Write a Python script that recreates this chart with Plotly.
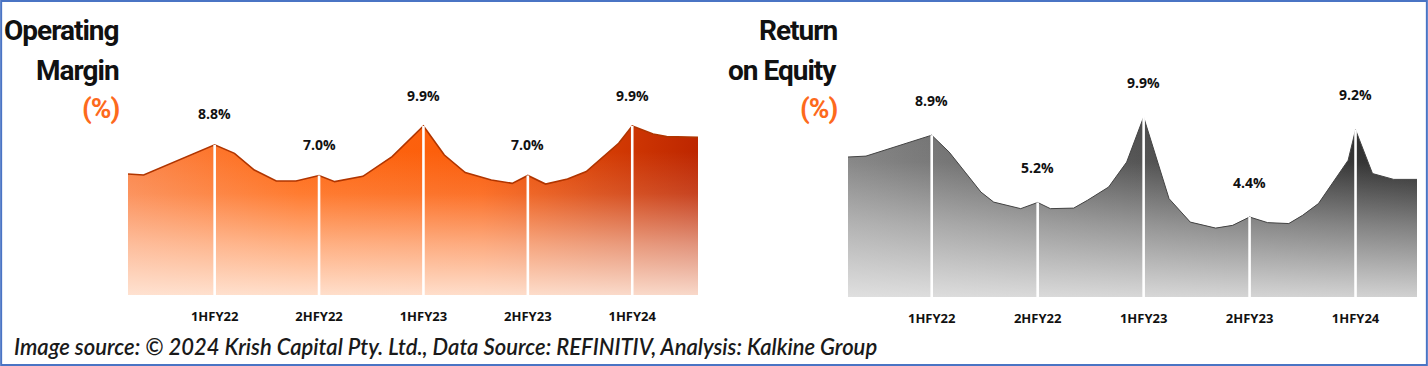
import plotly.graph_objects as go

# ---------------- data ----------------
periods = ["1HFY22", "2HFY22", "1HFY23", "2HFY23", "1HFY24"]

# Operating Margin (%) - outline points (position in half-year units, value in %)
om_pos = [-0.83, -0.68, 0, 0.19, 0.38, 0.59, 0.78, 1, 1.15, 1.42, 1.70, 2,
          2.20, 2.40, 2.65, 2.85, 3, 3.17, 3.38, 3.56, 3.87, 4, 4.20, 4.33, 4.63]
om_vals = [7.09, 7.03, 8.8, 8.30, 7.32, 6.68, 6.68, 7.0, 6.64, 6.95, 8.11, 9.9,
           8.20, 7.17, 6.74, 6.54, 7.0, 6.50, 6.80, 7.23, 8.89, 9.9, 9.43, 9.28, 9.24]

# Return on Equity (%)
roe_pos = [-0.79, -0.62, 0, 0.165, 0.315, 0.465, 0.585, 0.84, 1, 1.12, 1.34, 1.47,
           1.67, 1.84, 2, 2.065, 2.24, 2.44, 2.68, 2.84, 3, 3.17, 3.37, 3.50, 3.65,
           3.93, 4, 4.16, 4.36, 4.58]
roe_vals = [7.70, 7.75, 8.9, 7.97, 6.87, 5.77, 5.22, 4.86, 5.2, 4.86, 4.89, 5.32,
            6.05, 7.42, 9.9, 8.71, 5.41, 4.12, 3.79, 3.94, 4.4, 4.09, 4.04, 4.49, 5.14,
            7.52, 9.2, 6.79, 6.47, 6.47]

W, H = 1428, 366
fig = go.Figure()

def add_area(pos, vals, xa, ya, hscale, vscale, edge, edge_w, yshift):
    # base fill: horizontal gradient
    fig.add_trace(go.Scatter(
        x=pos, y=vals, mode="lines", fill="tozeroy", xaxis=xa, yaxis=ya,
        line=dict(width=0, color="rgba(0,0,0,0)"),
        fillgradient=dict(type="horizontal", start=min(pos), stop=max(pos),
                          colorscale=hscale),
        hoverinfo="skip", showlegend=False))
    # light overlay: vertical gradient (light at the bottom)
    fig.add_trace(go.Scatter(
        x=pos, y=vals, mode="lines", fill="tozeroy", xaxis=xa, yaxis=ya,
        line=dict(width=edge_w, color=edge),
        fillgradient=dict(type="vertical", start=0, stop=max(vals),
                          colorscale=vscale),
        hoverinfo="skip", showlegend=False))
    # white separators at each period
    lx, ly = [], []
    for i, p in enumerate(periods):
        v = vals[pos.index(i)]
        lx += [i, i, None]
        ly += [0, v, None]
    fig.add_trace(go.Scatter(
        x=lx, y=ly, mode="lines", xaxis=xa, yaxis=ya,
        line=dict(width=2.6, color="white"),
        hoverinfo="skip", showlegend=False))
    xref = "x" if xa == "x" else xa
    yref = "y" if ya == "y" else ya
    for i, p in enumerate(periods):
        v = vals[pos.index(i)]
        fig.add_annotation(x=i, y=v, xref=xref, yref=yref, text=f"{v:.1f}%",
                           showarrow=False, yshift=yshift,
                           font=dict(family="Open Sans, Noto Sans, sans-serif",
                                     size=14, color="#111111", weight="bold"))

orange_h = [[0.0, "#fb8448"], [0.3, "#ff6812"], [0.62, "#fb5c0a"],
            [0.82, "#d73e04"], [1.0, "#bd2600"]]
orange_v = [[0.0, "rgba(255,236,224,0.9)"], [0.3, "rgba(255,236,224,0.55)"],
            [0.6, "rgba(255,236,224,0.15)"], [0.85, "rgba(255,236,224,0)"],
            [1.0, "rgba(255,236,224,0)"]]
grey_h = [[0.0, "#828282"], [0.35, "#5c5c5c"], [0.7, "#3a3a3a"], [1.0, "#222222"]]
grey_v = [[0.0, "rgba(240,240,240,0.85)"], [0.4, "rgba(240,240,240,0.45)"],
          [0.75, "rgba(240,240,240,0.06)"], [1.0, "rgba(240,240,240,0)"]]

add_area(om_pos, om_vals, "x", "y", orange_h, orange_v, "#b03500", 1.6, 31)
add_area(roe_pos, roe_vals, "x2", "y2", grey_h, grey_v, "#444444", 1.0, 35)

tickfont = dict(family="Open Sans, Noto Sans, sans-serif", size=13,
                color="#111111", weight="bold")

def xaxis_cfg(x0px, x1px, rng, anchor):
    return dict(domain=[x0px / W, x1px / W], range=rng, anchor=anchor,
                tickvals=list(range(len(periods))), ticktext=periods,
                showgrid=False, zeroline=False, showline=False, ticks="",
                tickfont=tickfont, ticklabelstandoff=12, fixedrange=True)

def yaxis_cfg(zero_px, scale, anchor):
    top_px = 100
    return dict(domain=[(H - zero_px) / H, (H - top_px) / H],
                range=[0, (zero_px - top_px) / scale], anchor=anchor,
                visible=False, showgrid=False, zeroline=False, fixedrange=True)

fig.update_layout(
    width=W, height=H, margin=dict(l=0, r=0, t=0, b=0),
    paper_bgcolor="white", plot_bgcolor="rgba(0,0,0,0)",
    xaxis=xaxis_cfg(128, 698, [-0.83, 4.63], "y"),
    yaxis=yaxis_cfg(295, 17.07, "x"),
    xaxis2=xaxis_cfg(848, 1417, [-0.79, 4.58], "y2"),
    yaxis2=yaxis_cfg(297, 18.18, "x2"),
    showlegend=False,
)

title_font = "Roboto, Liberation Sans, sans-serif"

def title(lines, xpx):
    ys = [31, 70, 108]
    for (txt, col), ypx in zip(lines, ys):
        fig.add_annotation(x=xpx / W, y=1 - ypx / H, xref="paper", yref="paper",
                           xanchor="right", yanchor="middle",
                           text=f'<span style="letter-spacing:-1px">{txt}</span>',
                           showarrow=False,
                           font=dict(family=title_font, size=28, color=col,
                                     weight="bold"))

title([("Operating", "#111111"), ("Margin", "#111111"), ("(%)", "#fd6a1c")], 121)
title([("Return", "#111111"), ("on Equity", "#111111"), ("(%)", "#fd6a1c")], 839)

fig.add_annotation(x=12 / W, y=1 - 346 / H, xref="paper", yref="paper",
                   xanchor="left", yanchor="middle", showarrow=False,
                   text="Image source: © 2024 Krish Capital Pty. Ltd., Data Source: REFINITIV, Analysis: Kalkine Group",
                   font=dict(family="Lato, Open Sans, sans-serif", size=22,
                             color="#1a1a1a", style="italic", weight=600))

fig.add_shape(type="rect", xref="paper", yref="paper", x0=0.0008, x1=0.9992,
              y0=0.003, y1=0.997, line=dict(color="#4a74c4", width=2),
              fillcolor="rgba(0,0,0,0)", layer="above")

fig.write_html("out.html", config={"displayModeBar": False},
               post_script="document.body.style.margin='0';document.body.style.padding='0';")
